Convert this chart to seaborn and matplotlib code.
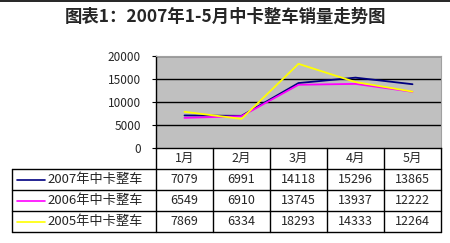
import matplotlib
matplotlib.use("Agg")
import matplotlib.pyplot as plt
import seaborn as sns
import pandas as pd
from matplotlib.lines import Line2D

months = ["1月", "2月", "3月", "4月", "5月"]
series_names = ["2007年中卡整车", "2006年中卡整车", "2005年中卡整车"]
sales_2007 = [7079, 6991, 14118, 15296, 13865]
sales_2006 = [6549, 6910, 13745, 13937, 12222]
sales_2005 = [7869, 6334, 18293, 14333, 12264]
colors = ["#000080", "#ff00ff", "#ffff00"]
title = "图表1：2007年1-5月中卡整车销量走势图"
yticks = [0, 5000, 10000, 15000, 20000]

sns.set_theme(style="white")
plt.rcParams['font.family'] = ['Noto Sans CJK SC', 'DejaVu Sans']

all_vals = [sales_2007, sales_2006, sales_2005]
df = pd.DataFrame({
    "month": months * 3,
    "value": sales_2007 + sales_2006 + sales_2005,
    "series": [s for s in series_names for _ in months],
})

W, H = 450, 243
fig = plt.figure(figsize=(4.5, 2.43), dpi=100)
fig.patch.set_facecolor("white")

def fx(px):
    return px / W

def fy(py):
    return 1 - py / H

# top border line
fig.add_artist(Line2D([0, 1], [fy(0.8), fy(0.8)], color="black", lw=1.2, transform=fig.transFigure))

fig.text(0.5, fy(17), title, ha="center", va="center", fontsize=12.5, fontweight="bold")

# plot area
ax = fig.add_axes([fx(156), fy(148), fx(441) - fx(156), (148 - 56) / H])
ax.set_facecolor("#c0c0c0")
sns.lineplot(data=df, x="month", y="value", hue="series", hue_order=series_names,
             palette=colors, ax=ax, legend=False, lw=1.3, sort=False)
ax.set_xlim(-0.5, 4.5)
ax.set_ylim(0, 20000)
ax.set_yticks(yticks)
ax.set_yticklabels([str(v) for v in yticks], fontsize=8.5)
ax.set_xticks([])
ax.set_xlabel("")
ax.set_ylabel("")
ax.tick_params(axis="y", length=3, width=0.8, color="black", pad=8, left=True)
for v in yticks[1:]:
    ax.axhline(v, color="black", lw=1.0, zorder=1)
for s in ["left", "bottom"]:
    ax.spines[s].set_color("black")
    ax.spines[s].set_linewidth(1.0)
for s in ["top", "right"]:
    ax.spines[s].set_color("#a0a0a0")
    ax.spines[s].set_linewidth(0.8)

# data table
tax = fig.add_axes([fx(12), fy(232), (441 - 12) / W, (232 - 148) / H])
tax.axis("off")
L = -0.5 - 144 / 57
tax.set_xlim(L, 4.5)
tax.set_ylim(4, 0)
lc = "black"
lw = 1.0
for i in range(len(months) + 1):
    tax.plot([i - 0.5, i - 0.5], [0, 4], color=lc, lw=lw, clip_on=False)
tax.plot([L, L], [1, 4], color=lc, lw=lw, clip_on=False)
for r in [1, 2, 3, 4]:
    tax.plot([L, 4.5], [r, r], color=lc, lw=lw, clip_on=False)
for i, m in enumerate(months):
    tax.text(i, 0.5, m, ha="center", va="center", fontsize=9)
for r, (name, vals, c) in enumerate(zip(series_names, all_vals, colors)):
    y = r + 1.5
    tax.plot([L + 5 / 57, L + 33 / 57], [y, y], color=c, lw=1.2, clip_on=False)
    tax.text(L + 35 / 57, y, name, ha="left", va="center", fontsize=9.5)
    for i, v in enumerate(vals):
        tax.text(i, y, str(v), ha="center", va="center", fontsize=9)

fig.savefig("out.png", dpi=100)
